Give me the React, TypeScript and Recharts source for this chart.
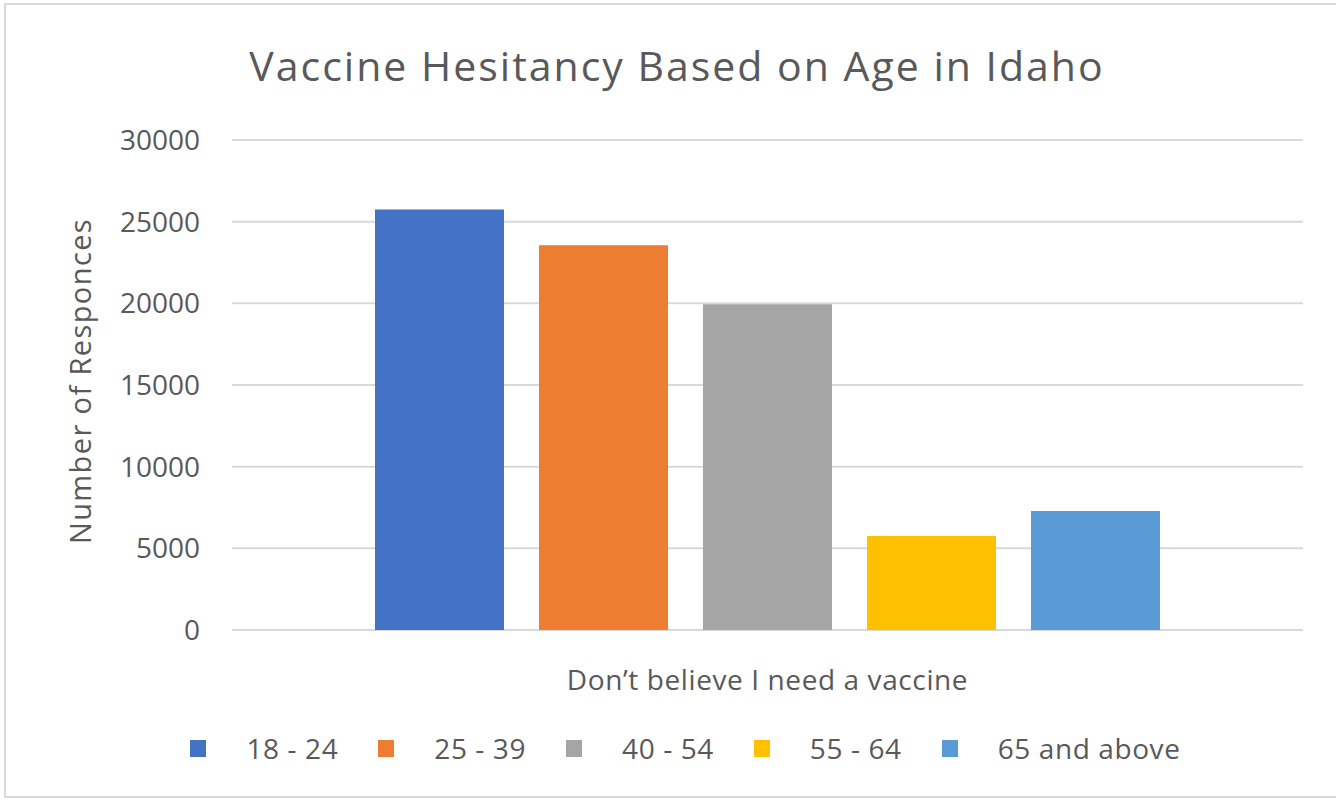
import React from 'react';
import { BarChart, Bar, XAxis, YAxis, CartesianGrid, Legend } from 'recharts';

const categories = ['Don’t believe  I need a vaccine'];
const ageGroups = ['18 - 24', '25 - 39', '40 - 54', '55 - 64', '65 and above'];
const groupColors = ['#4472C4', '#ED7D31', '#A5A5A5', '#FFC000', '#5B9BD5'];
const age18to24 = [25750];
const age25to39 = [23550];
const age40to54 = [19950];
const age55to64 = [5750];
const age65up = [7280];
const yTicks = [0, 5000, 10000, 15000, 20000, 25000, 30000];

const seriesValues = [age18to24, age25to39, age40to54, age55to64, age65up];

const data = categories.map((name, ci) => {
  const row: Record<string, string | number> = { name };
  ageGroups.forEach((g, gi) => {
    row[g] = seriesValues[gi][ci];
  });
  return row;
});

const FONT = '"Open Sans", "Noto Sans", sans-serif';
const TEXT = '#595959';

const CategoryTick = (props: any) => {
  const { x, y, payload } = props;
  return (
    <text
      x={x}
      y={y + 45}
      textAnchor="middle"
      dominantBaseline="middle"
      fill={TEXT}
      fontSize={28}
      letterSpacing={0.6}
      fontFamily={FONT}
    >
      {payload.value}
    </text>
  );
};

const AxisTitle = (props: any) => {
  const { viewBox } = props;
  const cy = viewBox.y + viewBox.height / 2 - 4;
  return (
    <text
      x={83}
      y={cy}
      transform={`rotate(-90, 83, ${cy})`}
      textAnchor="middle"
      dominantBaseline="middle"
      fill={TEXT}
      fontSize={29}
      letterSpacing={1.4}
      fontFamily={FONT}
    >
      Number of Responces
    </text>
  );
};

const LegendContent = () => (
  <div style={{ display: 'flex', justifyContent: 'center', alignItems: 'center', height: 40, paddingLeft: 68, fontFamily: FONT }}>
    {ageGroups.map((g, i) => (
      <div key={g} style={{ display: 'flex', alignItems: 'center', marginRight: i < ageGroups.length - 1 ? 40 : 0 }}>
        <span style={{ width: 16, height: 17, background: groupColors[i], display: 'inline-block', marginRight: 40 }} />
        <span style={{ fontSize: 28, letterSpacing: 0.6, color: TEXT }}>{g}</span>
      </div>
    ))}
  </div>
);

export default function App() {
  return (
    <div style={{ position: 'absolute', left: 0, top: 0, width: 1336, height: 801, overflow: 'hidden', background: '#fff' }}>
      <div
        style={{
          position: 'absolute',
          left: 4,
          top: 3,
          width: 1350,
          height: 795,
          border: '2px solid #d9d9d9',
          boxSizing: 'border-box',
        }}
      />
      <div
        style={{
          position: 'absolute',
          left: 0,
          width: 1354,
          top: 38,
          textAlign: 'center',
          fontFamily: FONT,
          fontSize: 41,
          letterSpacing: 2,
          color: TEXT,
          lineHeight: '54px',
        }}
      >
        Vaccine Hesitancy Based on Age in Idaho
      </div>
      <div style={{ position: 'absolute', left: 0, top: 0 }}>
        <BarChart
          width={1336}
          height={801}
          data={data}
          margin={{ top: 140, right: 33, bottom: 33, left: 0 }}
          barGap={35}
        >
          <CartesianGrid vertical={false} stroke="#d9d9d9" strokeWidth={2} />
          <XAxis
            dataKey="name"
            axisLine={false}
            tickLine={false}
            height={98}
            tick={<CategoryTick />}
            interval={0}
          />
          <YAxis
            width={232}
            domain={[0, 30000]}
            ticks={yTicks}
            axisLine={false}
            tickLine={false}
            tickSize={0}
            tickMargin={32}
            tick={{ fill: TEXT, fontSize: 28, fontFamily: FONT }}
            label={<AxisTitle />}
          />
          <Legend verticalAlign="bottom" height={40} content={<LegendContent />} />
          {ageGroups.map((g, i) => (
            <Bar key={g} dataKey={g} fill={groupColors[i]} barSize={129} isAnimationActive={false} />
          ))}
        </BarChart>
      </div>
    </div>
  );
}
